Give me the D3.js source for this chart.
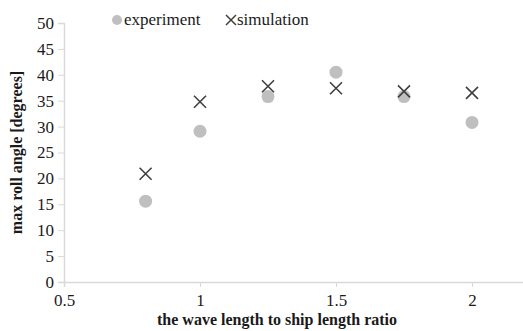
<!DOCTYPE html>
<html>
<head>
<meta charset="utf-8">
<script src="https://cdn.jsdelivr.net/npm/d3@7"></script>
<style>
  html, body { margin: 0; padding: 0; background: #fff; }
  svg { display: block; }
</style>
</head>
<body>
<svg id="chart" width="523" height="331"></svg>
<script>
// Wave length / ship length ratio for each run
const ratios = [0.8, 1.0, 1.25, 1.5, 1.75, 2.0];
// Max roll angle [degrees]
const experiment = [15.6, 29.1, 35.8, 40.5, 35.8, 30.8];
const simulation = [20.9, 34.8, 37.8, 37.4, 36.8, 36.5];

const xTicks = [0.5, 1, 1.5, 2];
const yTicks = [0, 5, 10, 15, 20, 25, 30, 35, 40, 45, 50];

const serif = "'Liberation Serif', 'Times New Roman', Times, serif";
const svg = d3.select("#chart");
const axisColor = "#d9d9d9";
const expColor = "#bfbfbf";
const simColor = "#404040";
const textColor = "#1a1a1a";

const x = d3.scaleLinear().domain([0.5, 2.2]).range([64, 526.4]);
const y = d3.scaleLinear().domain([0, 50]).range([282, 23]);

// y axis
const yAxis = svg.append("g")
  .attr("transform", `translate(${x(0.5)},0)`)
  .call(d3.axisLeft(y).tickValues(yTicks).tickSize(6).tickPadding(4).tickFormat(d3.format("d")));
// x axis
const xAxis = svg.append("g")
  .attr("transform", `translate(0,${y(0)})`)
  .call(d3.axisBottom(x).tickValues(xTicks).tickSize(5).tickPadding(7).tickFormat(d => String(d)));

[yAxis, xAxis].forEach(g => {
  g.attr("font-family", serif).attr("font-size", 17);
  g.select(".domain").attr("stroke", axisColor).attr("stroke-width", 1.5);
  g.selectAll(".tick line").attr("stroke", axisColor).attr("stroke-width", 1);
  g.selectAll(".tick text").attr("fill", textColor);
});

// experiment markers
svg.append("g").selectAll("circle")
  .data(ratios.map((r, i) => [r, experiment[i]]))
  .join("circle")
  .attr("cx", d => x(d[0]))
  .attr("cy", d => y(d[1]))
  .attr("r", 6.5)
  .attr("fill", expColor);

// simulation markers
const s = 6;
svg.append("g").selectAll("path")
  .data(ratios.map((r, i) => [r, simulation[i]]))
  .join("path")
  .attr("d", d => {
    const cx = x(d[0]), cy = y(d[1]);
    return `M${cx - s},${cy - s}L${cx + s},${cy + s}M${cx - s},${cy + s}L${cx + s},${cy - s}`;
  })
  .attr("stroke", simColor)
  .attr("stroke-width", 1.6)
  .attr("fill", "none");

// legend
const legend = svg.append("g").attr("font-family", serif).attr("font-size", 17).attr("fill", textColor);
legend.append("circle").attr("cx", 117).attr("cy", 20).attr("r", 5).attr("fill", expColor);
legend.append("text").attr("x", 124).attr("y", 25).text("experiment");
legend.append("path")
  .attr("d", "M226,15L236,25M226,25L236,15")
  .attr("stroke", simColor).attr("stroke-width", 1.5);
legend.append("text").attr("x", 237).attr("y", 25).text("simulation");

// axis titles
svg.append("text")
  .attr("x", 277).attr("y", 325)
  .attr("text-anchor", "middle")
  .attr("font-family", serif)
  .attr("font-weight", "bold")
  .attr("font-size", 16)
  .attr("fill", textColor)
  .text("the wave length to ship length ratio");

svg.append("text")
  .attr("transform", `translate(22,${(y(0) + y(50)) / 2}) rotate(-90)`)
  .attr("text-anchor", "middle")
  .attr("font-family", serif)
  .attr("font-weight", "bold")
  .attr("font-size", 16)
  .attr("fill", textColor)
  .text("max roll angle [degrees]");
</script>
</body>
</html>
